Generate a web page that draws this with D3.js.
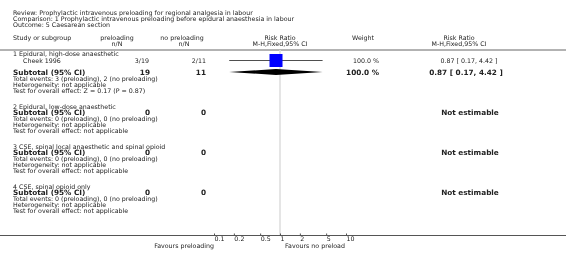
<!DOCTYPE html>
<html>
<head>
<meta charset="utf-8">
<script src="https://cdn.jsdelivr.net/npm/d3@7"></script>
<style>
  body { margin: 0; background: #fff; }
  #chart { will-change: transform; }
  svg text { font-family: "DejaVu Sans", Verdana, sans-serif; fill: #222; -webkit-font-smoothing: antialiased; }
</style>
</head>
<body>
<div id="chart"></div>
<script>
// Header texts
var titleLines = [
    "Review:  Prophylactic intravenous preloading for regional analgesia in labour",
    "Comparison:  1 Prophylactic intravenous preloading before epidural anaesthesia in labour",
    "Outcome:  5 Caesarean section"
];

// Subgroups
var groupNames = [
    "1 Epidural, high-dose anaesthetic",
    "2 Epidural, low-dose anaesthetic",
    "3 CSE, spinal local anaesthetic and spinal opioid",
    "4 CSE, spinal opioid only"
];
var groupPreTotal = [19, 0, 0, 0];
var groupNoPreTotal = [11, 0, 0, 0];
var groupWeight = ["100.0 %", "", "", ""];
var groupRR = [0.87, null, null, null];
var groupLow = [0.17, null, null, null];
var groupHigh = [4.42, null, null, null];
var groupEvents = [
    "Total events: 3 (preloading), 2 (no preloading)",
    "Total events: 0 (preloading), 0 (no preloading)",
    "Total events: 0 (preloading), 0 (no preloading)",
    "Total events: 0 (preloading), 0 (no preloading)"
];
var groupHetero = ["Heterogeneity: not applicable", "Heterogeneity: not applicable",
                   "Heterogeneity: not applicable", "Heterogeneity: not applicable"];
var groupEffect = [
    "Test for overall effect: Z = 0.17 (P = 0.87)",
    "Test for overall effect: not applicable",
    "Test for overall effect: not applicable",
    "Test for overall effect: not applicable"
];

// Studies
var studyNames = ["Cheek 1996"];
var studyGroup = [0];
var studyPre = ["3/19"];
var studyNoPre = ["2/11"];
var studyWeight = [100.0];
var studyRR = [0.87];
var studyLow = [0.17];
var studyHigh = [4.42];

// Axis
var axisTicks = [0.1, 0.2, 0.5, 1, 2, 5, 10];
var favoursLeft = "Favours preloading";
var favoursRight = "Favours no preload";

var width = 566, height = 265;
var svg = d3.select("#chart").append("svg")
    .attr("width", width)
    .attr("height", height);

var small = 6.3, big = 7.3;

function txt(x, y, s, opts) {
    opts = opts || {};
    return svg.append("text")
        .attr("x", x)
        .attr("y", y)
        .attr("dy", "0.35em")
        .attr("text-anchor", opts.anchor || "start")
        .style("font-size", (opts.bold ? big : small) + "px")
        .style("font-weight", opts.bold ? "bold" : "normal")
        .text(s);
}

// log scale for the risk ratio
var x = d3.scaleLog().domain([0.1, 10]).range([214, 346]);

// title block
titleLines.forEach(function(t, i) {
    txt(13, 13 + i * 6, t);
});

// column headers
txt(13, 38, "Study or subgroup");
txt(117, 38, "preloading", {anchor: "middle"});
txt(117, 44, "n/N", {anchor: "middle"});
txt(182, 38, "no preloading", {anchor: "middle"});
txt(184, 44, "n/N", {anchor: "middle"});
txt(280, 38, "Risk Ratio", {anchor: "middle"});
txt(280, 44, "M-H,Fixed,95% CI", {anchor: "middle"});
txt(363, 38, "Weight", {anchor: "middle"});
txt(459, 38, "Risk Ratio", {anchor: "middle"});
txt(459, 44, "M-H,Fixed,95% CI", {anchor: "middle"});

svg.append("line")
    .attr("x1", 0).attr("x2", width)
    .attr("y1", 50).attr("y2", 50)
    .style("stroke", "#666").style("stroke-width", 1);

var axisY = 235.5;

// line of no effect
svg.append("line")
    .attr("x1", x(1)).attr("x2", x(1))
    .attr("y1", 50).attr("y2", axisY)
    .style("stroke", "#ddd").style("stroke-width", 1.5);

var fmt = d3.format(".2f");
var colPre = 149, colNoPre = 206, colWeight = 379, colRR = 469;

var y = 54;
groupNames.forEach(function(name, g) {
    txt(13, y, name);
    var rows = studyNames.map(function(d, i) { return i; })
        .filter(function(i) { return studyGroup[i] === g; });

    rows.forEach(function(i) {
        y += 6.5;
        txt(23, y, studyNames[i]);
        txt(colPre, y, studyPre[i], {anchor: "end"});
        txt(colNoPre, y, studyNoPre[i], {anchor: "end"});
        txt(colWeight, y, studyWeight[i].toFixed(1) + " %", {anchor: "end"});
        txt(colRR, y, fmt(studyRR[i]) + " [ " + fmt(studyLow[i]) + ", " + fmt(studyHigh[i]) + " ]", {anchor: "middle"});

        svg.append("line")
            .attr("x1", x(studyLow[i])).attr("x2", x(studyHigh[i]))
            .attr("y1", y).attr("y2", y)
            .style("stroke", "#222").style("stroke-width", 0.8);
        var side = 13 * Math.sqrt(studyWeight[i] / 100);
        svg.append("rect")
            .attr("x", x(studyRR[i]) - side / 2)
            .attr("y", y - side / 2)
            .attr("width", side).attr("height", side)
            .style("fill", "#0000ff");
    });

    y += rows.length ? 11.5 : 5.5;
    txt(13, y, "Subtotal (95% CI)", {bold: true});
    txt(colPre + 1, y, groupPreTotal[g], {anchor: "end", bold: true});
    txt(colNoPre, y, groupNoPreTotal[g], {anchor: "end", bold: true});
    if (groupRR[g] != null) {
        txt(colWeight, y, groupWeight[g], {anchor: "end", bold: true});
        txt(colRR - 3, y, fmt(groupRR[g]) + " [ " + fmt(groupLow[g]) + ", " + fmt(groupHigh[g]) + " ]", {anchor: "middle", bold: true});
        var cx = x(groupRR[g]), lo = x(groupLow[g]), hi = x(groupHigh[g]);
        svg.append("path")
            .attr("d", "M" + lo + "," + y + "L" + cx + "," + (y - 3) + "L" + hi + "," + y + "L" + cx + "," + (y + 3) + "Z")
            .style("fill", "#000");
    } else {
        txt(colRR + 1, y, "Not estimable", {anchor: "middle", bold: true});
    }
    y += 6.5;
    txt(13, y, groupEvents[g]);
    y += 6;
    txt(13, y, groupHetero[g]);
    y += 6;
    txt(13, y, groupEffect[g]);
    y += 16;
});

// bottom axis
svg.append("line")
    .attr("x1", 0).attr("x2", width)
    .attr("y1", axisY).attr("y2", axisY)
    .style("stroke", "#555").style("stroke-width", 1);

var axis = svg.append("g")
    .attr("transform", "translate(0," + axisY + ")")
    .call(d3.axisBottom(x).tickValues(axisTicks).tickSize(-2).tickPadding(1.5)
        .tickFormat(function(d) { return String(d); }));
axis.select(".domain").remove();
axis.selectAll(".tick line").style("stroke", "#555");
axis.selectAll(".tick text")
    .attr("text-anchor", "start")
    .style("font-size", small + "px")
    .style("font-family", "DejaVu Sans, sans-serif")
    .attr("fill", "#222");

txt(x(0.1), 246, favoursLeft, {anchor: "end"});
txt(285, 246, favoursRight);
</script>
</body>
</html>
